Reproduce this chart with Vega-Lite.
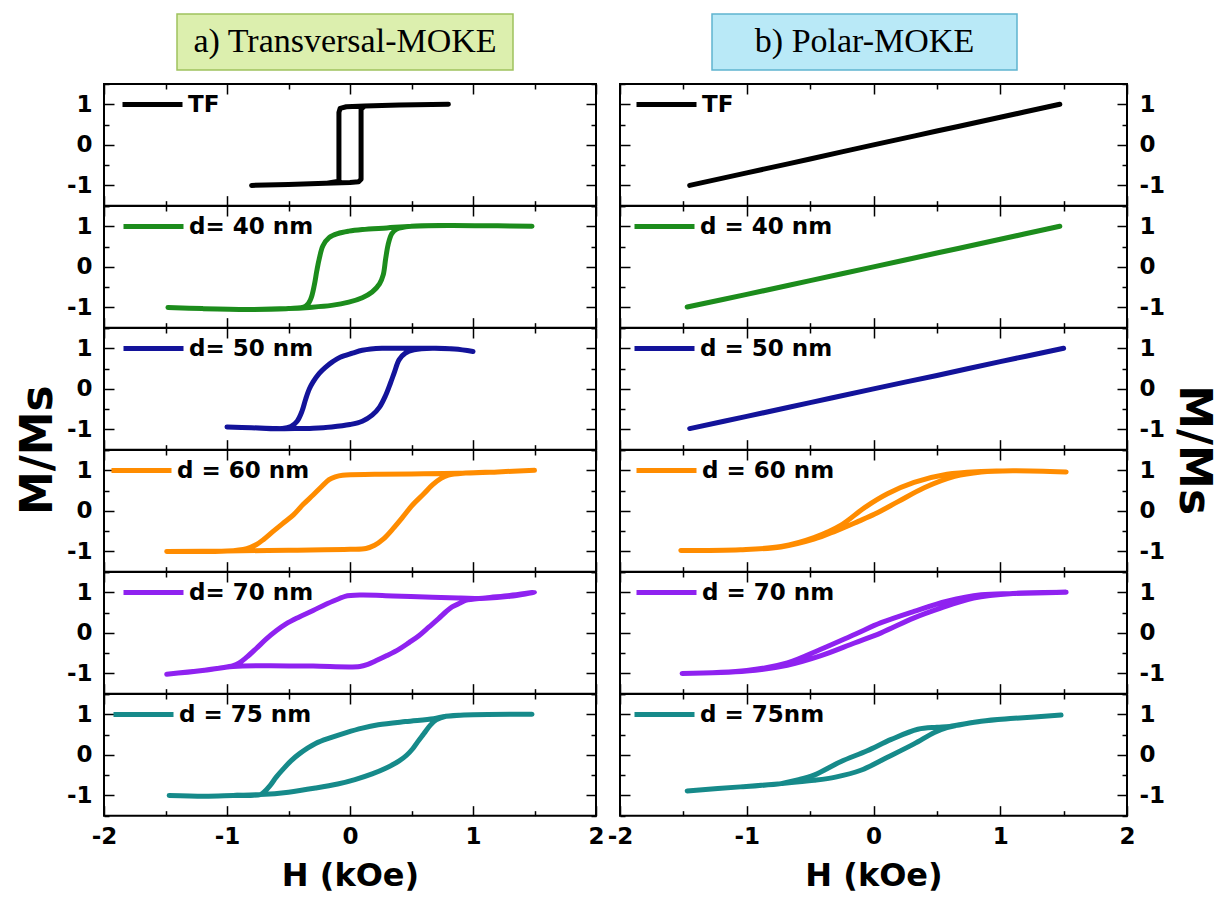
{
"$schema":"https://vega.github.io/schema/vega-lite/v6.json",
"background":"white",
"padding":{"left":15,"top":13,"right":5,"bottom":5},
"datasets":{"d":[
{"p":"T","s":"TF","i":0,"h":-0.8,"m":-1.0},{"p":"T","s":"TF","i":1,"h":-0.5,"m":-0.98},{"p":"T","s":"TF","i":2,"h":-0.2,"m":-0.95},{"p":"T","s":"TF","i":3,"h":0.0,"m":-0.93},{"p":"T","s":"TF","i":4,"h":0.07,"m":-0.91},{"p":"T","s":"TF","i":5,"h":0.09,"m":-0.85},{"p":"T","s":"TF","i":6,"h":0.09,"m":0.0},{"p":"T","s":"TF","i":7,"h":0.09,"m":0.88},{"p":"T","s":"TF","i":8,"h":0.12,"m":0.96},{"p":"T","s":"TF","i":9,"h":0.4,"m":0.98},{"p":"T","s":"TF","i":10,"h":0.8,"m":1.0},{"p":"T","s":"TF","i":11,"h":0.4,"m":0.98},{"p":"T","s":"TF","i":12,"h":0.12,"m":0.96},{"p":"T","s":"TF","i":13,"h":-0.03,"m":0.94},{"p":"T","s":"TF","i":14,"h":-0.08,"m":0.9},{"p":"T","s":"TF","i":15,"h":-0.09,"m":0.8},{"p":"T","s":"TF","i":16,"h":-0.09,"m":0.0},{"p":"T","s":"TF","i":17,"h":-0.09,"m":-0.9},{"p":"T","s":"TF","i":18,"h":-0.2,"m":-0.95},{"p":"T","s":"TF","i":19,"h":-0.5,"m":-0.98},{"p":"T","s":"TF","i":20,"h":-0.8,"m":-1.0},
{"p":"T","s":"40","i":0,"h":-1.48,"m":-1.0},{"p":"T","s":"40","i":1,"h":-1.2,"m":-1.03},{"p":"T","s":"40","i":2,"h":-0.83,"m":-1.05},{"p":"T","s":"40","i":3,"h":-0.5,"m":-1.03},{"p":"T","s":"40","i":4,"h":-0.33,"m":-1.0},{"p":"T","s":"40","i":5,"h":-0.15,"m":-0.95},{"p":"T","s":"40","i":6,"h":-0.01,"m":-0.87},{"p":"T","s":"40","i":7,"h":0.1,"m":-0.76},{"p":"T","s":"40","i":8,"h":0.18,"m":-0.62},{"p":"T","s":"40","i":9,"h":0.24,"m":-0.42},{"p":"T","s":"40","i":10,"h":0.27,"m":-0.2},{"p":"T","s":"40","i":11,"h":0.29,"m":0.2},{"p":"T","s":"40","i":12,"h":0.31,"m":0.55},{"p":"T","s":"40","i":13,"h":0.34,"m":0.82},{"p":"T","s":"40","i":14,"h":0.38,"m":0.93},{"p":"T","s":"40","i":15,"h":0.5,"m":1.0},{"p":"T","s":"40","i":16,"h":0.8,"m":1.02},{"p":"T","s":"40","i":17,"h":1.2,"m":1.01},{"p":"T","s":"40","i":18,"h":1.48,"m":1.0},{"p":"T","s":"40","i":19,"h":1.2,"m":1.01},{"p":"T","s":"40","i":20,"h":0.8,"m":1.02},{"p":"T","s":"40","i":21,"h":0.5,"m":1.0},{"p":"T","s":"40","i":22,"h":0.3,"m":0.96},{"p":"T","s":"40","i":23,"h":0.1,"m":0.92},{"p":"T","s":"40","i":24,"h":-0.01,"m":0.88},{"p":"T","s":"40","i":25,"h":-0.1,"m":0.82},{"p":"T","s":"40","i":26,"h":-0.17,"m":0.72},{"p":"T","s":"40","i":27,"h":-0.22,"m":0.52},{"p":"T","s":"40","i":28,"h":-0.25,"m":0.2},{"p":"T","s":"40","i":29,"h":-0.27,"m":-0.1},{"p":"T","s":"40","i":30,"h":-0.29,"m":-0.45},{"p":"T","s":"40","i":31,"h":-0.32,"m":-0.8},{"p":"T","s":"40","i":32,"h":-0.36,"m":-0.97},{"p":"T","s":"40","i":33,"h":-0.5,"m":-1.03},{"p":"T","s":"40","i":34,"h":-0.83,"m":-1.05},{"p":"T","s":"40","i":35,"h":-1.2,"m":-1.03},{"p":"T","s":"40","i":36,"h":-1.48,"m":-1.0},
{"p":"T","s":"50","i":0,"h":-1.0,"m":-0.94},{"p":"T","s":"50","i":1,"h":-0.8,"m":-0.96},{"p":"T","s":"50","i":2,"h":-0.6,"m":-0.98},{"p":"T","s":"50","i":3,"h":-0.45,"m":-0.98},{"p":"T","s":"50","i":4,"h":-0.3,"m":-0.97},{"p":"T","s":"50","i":5,"h":-0.15,"m":-0.94},{"p":"T","s":"50","i":6,"h":0.0,"m":-0.88},{"p":"T","s":"50","i":7,"h":0.1,"m":-0.8},{"p":"T","s":"50","i":8,"h":0.18,"m":-0.65},{"p":"T","s":"50","i":9,"h":0.24,"m":-0.45},{"p":"T","s":"50","i":10,"h":0.29,"m":-0.16},{"p":"T","s":"50","i":11,"h":0.33,"m":0.15},{"p":"T","s":"50","i":12,"h":0.36,"m":0.4},{"p":"T","s":"50","i":13,"h":0.4,"m":0.72},{"p":"T","s":"50","i":14,"h":0.45,"m":0.88},{"p":"T","s":"50","i":15,"h":0.52,"m":0.96},{"p":"T","s":"50","i":16,"h":0.67,"m":1.0},{"p":"T","s":"50","i":17,"h":0.85,"m":0.98},{"p":"T","s":"50","i":18,"h":1.0,"m":0.92},{"p":"T","s":"50","i":19,"h":0.85,"m":0.98},{"p":"T","s":"50","i":20,"h":0.67,"m":1.0},{"p":"T","s":"50","i":21,"h":0.45,"m":1.0},{"p":"T","s":"50","i":22,"h":0.26,"m":1.0},{"p":"T","s":"50","i":23,"h":0.1,"m":0.95},{"p":"T","s":"50","i":24,"h":0.02,"m":0.88},{"p":"T","s":"50","i":25,"h":-0.08,"m":0.78},{"p":"T","s":"50","i":26,"h":-0.14,"m":0.67},{"p":"T","s":"50","i":27,"h":-0.2,"m":0.53},{"p":"T","s":"50","i":28,"h":-0.25,"m":0.38},{"p":"T","s":"50","i":29,"h":-0.3,"m":0.17},{"p":"T","s":"50","i":30,"h":-0.33,"m":0.0},{"p":"T","s":"50","i":31,"h":-0.36,"m":-0.25},{"p":"T","s":"50","i":32,"h":-0.39,"m":-0.55},{"p":"T","s":"50","i":33,"h":-0.43,"m":-0.8},{"p":"T","s":"50","i":34,"h":-0.48,"m":-0.93},{"p":"T","s":"50","i":35,"h":-0.55,"m":-0.98},{"p":"T","s":"50","i":36,"h":-0.8,"m":-0.96},{"p":"T","s":"50","i":37,"h":-1.0,"m":-0.94},
{"p":"T","s":"60","i":0,"h":-1.49,"m":-1.0},{"p":"T","s":"60","i":1,"h":-1.0,"m":-0.99},{"p":"T","s":"60","i":2,"h":-0.5,"m":-0.97},{"p":"T","s":"60","i":3,"h":0.0,"m":-0.95},{"p":"T","s":"60","i":4,"h":0.13,"m":-0.93},{"p":"T","s":"60","i":5,"h":0.2,"m":-0.85},{"p":"T","s":"60","i":6,"h":0.27,"m":-0.7},{"p":"T","s":"60","i":7,"h":0.35,"m":-0.44},{"p":"T","s":"60","i":8,"h":0.43,"m":-0.15},{"p":"T","s":"60","i":9,"h":0.51,"m":0.15},{"p":"T","s":"60","i":10,"h":0.6,"m":0.42},{"p":"T","s":"60","i":11,"h":0.67,"m":0.64},{"p":"T","s":"60","i":12,"h":0.74,"m":0.8},{"p":"T","s":"60","i":13,"h":0.8,"m":0.88},{"p":"T","s":"60","i":14,"h":0.94,"m":0.93},{"p":"T","s":"60","i":15,"h":1.2,"m":0.96},{"p":"T","s":"60","i":16,"h":1.5,"m":1.0},{"p":"T","s":"60","i":17,"h":1.2,"m":0.96},{"p":"T","s":"60","i":18,"h":0.94,"m":0.93},{"p":"T","s":"60","i":19,"h":0.5,"m":0.91},{"p":"T","s":"60","i":20,"h":0.2,"m":0.9},{"p":"T","s":"60","i":21,"h":-0.06,"m":0.88},{"p":"T","s":"60","i":22,"h":-0.12,"m":0.84},{"p":"T","s":"60","i":23,"h":-0.17,"m":0.77},{"p":"T","s":"60","i":24,"h":-0.23,"m":0.6},{"p":"T","s":"60","i":25,"h":-0.3,"m":0.39},{"p":"T","s":"60","i":26,"h":-0.38,"m":0.16},{"p":"T","s":"60","i":27,"h":-0.46,"m":-0.1},{"p":"T","s":"60","i":28,"h":-0.55,"m":-0.32},{"p":"T","s":"60","i":29,"h":-0.63,"m":-0.52},{"p":"T","s":"60","i":30,"h":-0.7,"m":-0.7},{"p":"T","s":"60","i":31,"h":-0.76,"m":-0.83},{"p":"T","s":"60","i":32,"h":-0.84,"m":-0.93},{"p":"T","s":"60","i":33,"h":-1.0,"m":-0.99},{"p":"T","s":"60","i":34,"h":-1.49,"m":-1.0},
{"p":"T","s":"70","i":0,"h":-1.49,"m":-1.02},{"p":"T","s":"70","i":1,"h":-1.2,"m":-0.93},{"p":"T","s":"70","i":2,"h":-0.95,"m":-0.83},{"p":"T","s":"70","i":3,"h":-0.68,"m":-0.81},{"p":"T","s":"70","i":4,"h":-0.3,"m":-0.82},{"p":"T","s":"70","i":5,"h":0.08,"m":-0.83},{"p":"T","s":"70","i":6,"h":0.15,"m":-0.77},{"p":"T","s":"70","i":7,"h":0.21,"m":-0.69},{"p":"T","s":"70","i":8,"h":0.3,"m":-0.56},{"p":"T","s":"70","i":9,"h":0.4,"m":-0.4},{"p":"T","s":"70","i":10,"h":0.48,"m":-0.24},{"p":"T","s":"70","i":11,"h":0.56,"m":-0.07},{"p":"T","s":"70","i":12,"h":0.64,"m":0.14},{"p":"T","s":"70","i":13,"h":0.72,"m":0.35},{"p":"T","s":"70","i":14,"h":0.78,"m":0.52},{"p":"T","s":"70","i":15,"h":0.83,"m":0.64},{"p":"T","s":"70","i":16,"h":0.9,"m":0.74},{"p":"T","s":"70","i":17,"h":0.94,"m":0.8},{"p":"T","s":"70","i":18,"h":1.1,"m":0.86},{"p":"T","s":"70","i":19,"h":1.3,"m":0.92},{"p":"T","s":"70","i":20,"h":1.5,"m":1.0},{"p":"T","s":"70","i":21,"h":1.3,"m":0.9},{"p":"T","s":"70","i":22,"h":1.1,"m":0.85},{"p":"T","s":"70","i":23,"h":0.9,"m":0.86},{"p":"T","s":"70","i":24,"h":0.67,"m":0.88},{"p":"T","s":"70","i":25,"h":0.35,"m":0.91},{"p":"T","s":"70","i":26,"h":0.08,"m":0.93},{"p":"T","s":"70","i":27,"h":-0.04,"m":0.9},{"p":"T","s":"70","i":28,"h":-0.09,"m":0.84},{"p":"T","s":"70","i":29,"h":-0.2,"m":0.7},{"p":"T","s":"70","i":30,"h":-0.3,"m":0.55},{"p":"T","s":"70","i":31,"h":-0.42,"m":0.38},{"p":"T","s":"70","i":32,"h":-0.52,"m":0.22},{"p":"T","s":"70","i":33,"h":-0.6,"m":0.05},{"p":"T","s":"70","i":34,"h":-0.68,"m":-0.15},{"p":"T","s":"70","i":35,"h":-0.76,"m":-0.38},{"p":"T","s":"70","i":36,"h":-0.84,"m":-0.6},{"p":"T","s":"70","i":37,"h":-0.9,"m":-0.74},{"p":"T","s":"70","i":38,"h":-0.95,"m":-0.81},{"p":"T","s":"70","i":39,"h":-1.2,"m":-0.93},{"p":"T","s":"70","i":40,"h":-1.49,"m":-1.02},
{"p":"T","s":"75","i":0,"h":-1.47,"m":-1.0},{"p":"T","s":"75","i":1,"h":-1.18,"m":-1.02},{"p":"T","s":"75","i":2,"h":-0.95,"m":-1.0},{"p":"T","s":"75","i":3,"h":-0.73,"m":-0.98},{"p":"T","s":"75","i":4,"h":-0.5,"m":-0.92},{"p":"T","s":"75","i":5,"h":-0.28,"m":-0.82},{"p":"T","s":"75","i":6,"h":-0.1,"m":-0.72},{"p":"T","s":"75","i":7,"h":0.04,"m":-0.61},{"p":"T","s":"75","i":8,"h":0.18,"m":-0.47},{"p":"T","s":"75","i":9,"h":0.29,"m":-0.33},{"p":"T","s":"75","i":10,"h":0.4,"m":-0.15},{"p":"T","s":"75","i":11,"h":0.46,"m":-0.01},{"p":"T","s":"75","i":12,"h":0.51,"m":0.15},{"p":"T","s":"75","i":13,"h":0.55,"m":0.32},{"p":"T","s":"75","i":14,"h":0.6,"m":0.52},{"p":"T","s":"75","i":15,"h":0.65,"m":0.72},{"p":"T","s":"75","i":16,"h":0.7,"m":0.86},{"p":"T","s":"75","i":17,"h":0.78,"m":0.95},{"p":"T","s":"75","i":18,"h":1.0,"m":0.99},{"p":"T","s":"75","i":19,"h":1.48,"m":1.0},{"p":"T","s":"75","i":20,"h":1.0,"m":0.99},{"p":"T","s":"75","i":21,"h":0.78,"m":0.95},{"p":"T","s":"75","i":22,"h":0.68,"m":0.89},{"p":"T","s":"75","i":23,"h":0.45,"m":0.82},{"p":"T","s":"75","i":24,"h":0.23,"m":0.74},{"p":"T","s":"75","i":25,"h":0.1,"m":0.66},{"p":"T","s":"75","i":26,"h":-0.03,"m":0.55},{"p":"T","s":"75","i":27,"h":-0.15,"m":0.43},{"p":"T","s":"75","i":28,"h":-0.28,"m":0.28},{"p":"T","s":"75","i":29,"h":-0.41,"m":0.03},{"p":"T","s":"75","i":30,"h":-0.48,"m":-0.15},{"p":"T","s":"75","i":31,"h":-0.54,"m":-0.34},{"p":"T","s":"75","i":32,"h":-0.6,"m":-0.55},{"p":"T","s":"75","i":33,"h":-0.65,"m":-0.76},{"p":"T","s":"75","i":34,"h":-0.7,"m":-0.92},{"p":"T","s":"75","i":35,"h":-0.73,"m":-0.98},{"p":"T","s":"75","i":36,"h":-0.95,"m":-1.0},{"p":"T","s":"75","i":37,"h":-1.18,"m":-1.02},{"p":"T","s":"75","i":38,"h":-1.47,"m":-1.0},
{"p":"P","s":"TF","i":0,"h":-1.45,"m":-1.0},{"p":"P","s":"TF","i":1,"h":-1.0,"m":-0.69},{"p":"P","s":"TF","i":2,"h":-0.5,"m":-0.35},{"p":"P","s":"TF","i":3,"h":0.0,"m":0.0},{"p":"P","s":"TF","i":4,"h":0.5,"m":0.34},{"p":"P","s":"TF","i":5,"h":1.0,"m":0.68},{"p":"P","s":"TF","i":6,"h":1.47,"m":1.0},
{"p":"P","s":"40","i":0,"h":-1.47,"m":-0.99},{"p":"P","s":"40","i":1,"h":-1.0,"m":-0.68},{"p":"P","s":"40","i":2,"h":-0.5,"m":-0.34},{"p":"P","s":"40","i":3,"h":0.0,"m":0.0},{"p":"P","s":"40","i":4,"h":0.5,"m":0.34},{"p":"P","s":"40","i":5,"h":1.0,"m":0.68},{"p":"P","s":"40","i":6,"h":1.47,"m":1.0},
{"p":"P","s":"50","i":0,"h":-1.45,"m":-0.98},{"p":"P","s":"50","i":1,"h":-1.0,"m":-0.68},{"p":"P","s":"50","i":2,"h":-0.5,"m":-0.34},{"p":"P","s":"50","i":3,"h":0.0,"m":0.0},{"p":"P","s":"50","i":4,"h":0.5,"m":0.33},{"p":"P","s":"50","i":5,"h":1.0,"m":0.67},{"p":"P","s":"50","i":6,"h":1.5,"m":1.0},
{"p":"P","s":"60","i":0,"h":-1.52,"m":-0.98},{"p":"P","s":"60","i":1,"h":-1.05,"m":-0.96},{"p":"P","s":"60","i":2,"h":-0.73,"m":-0.89},{"p":"P","s":"60","i":3,"h":-0.47,"m":-0.7},{"p":"P","s":"60","i":4,"h":-0.3,"m":-0.5},{"p":"P","s":"60","i":5,"h":-0.12,"m":-0.26},{"p":"P","s":"60","i":6,"h":0.01,"m":-0.08},{"p":"P","s":"60","i":7,"h":0.19,"m":0.22},{"p":"P","s":"60","i":8,"h":0.4,"m":0.57},{"p":"P","s":"60","i":9,"h":0.64,"m":0.85},{"p":"P","s":"60","i":10,"h":0.85,"m":0.96},{"p":"P","s":"60","i":11,"h":1.1,"m":0.99},{"p":"P","s":"60","i":12,"h":1.52,"m":0.96},{"p":"P","s":"60","i":13,"h":1.1,"m":0.99},{"p":"P","s":"60","i":14,"h":0.85,"m":0.97},{"p":"P","s":"60","i":15,"h":0.58,"m":0.9},{"p":"P","s":"60","i":16,"h":0.32,"m":0.7},{"p":"P","s":"60","i":17,"h":0.11,"m":0.42},{"p":"P","s":"60","i":18,"h":-0.07,"m":0.08},{"p":"P","s":"60","i":19,"h":-0.26,"m":-0.36},{"p":"P","s":"60","i":20,"h":-0.47,"m":-0.66},{"p":"P","s":"60","i":21,"h":-0.73,"m":-0.88},{"p":"P","s":"60","i":22,"h":-1.05,"m":-0.96},{"p":"P","s":"60","i":23,"h":-1.52,"m":-0.98},
{"p":"P","s":"70","i":0,"h":-1.51,"m":-1.0},{"p":"P","s":"70","i":1,"h":-1.0,"m":-0.94},{"p":"P","s":"70","i":2,"h":-0.68,"m":-0.8},{"p":"P","s":"70","i":3,"h":-0.42,"m":-0.57},{"p":"P","s":"70","i":4,"h":-0.15,"m":-0.25},{"p":"P","s":"70","i":5,"h":0.06,"m":0.0},{"p":"P","s":"70","i":6,"h":0.32,"m":0.37},{"p":"P","s":"70","i":7,"h":0.53,"m":0.61},{"p":"P","s":"70","i":8,"h":0.79,"m":0.86},{"p":"P","s":"70","i":9,"h":1.1,"m":0.97},{"p":"P","s":"70","i":10,"h":1.52,"m":1.0},{"p":"P","s":"70","i":11,"h":1.1,"m":0.97},{"p":"P","s":"70","i":12,"h":0.85,"m":0.94},{"p":"P","s":"70","i":13,"h":0.58,"m":0.78},{"p":"P","s":"70","i":14,"h":0.32,"m":0.53},{"p":"P","s":"70","i":15,"h":0.06,"m":0.25},{"p":"P","s":"70","i":16,"h":-0.15,"m":-0.04},{"p":"P","s":"70","i":17,"h":-0.42,"m":-0.41},{"p":"P","s":"70","i":18,"h":-0.68,"m":-0.74},{"p":"P","s":"70","i":19,"h":-1.0,"m":-0.93},{"p":"P","s":"70","i":20,"h":-1.51,"m":-1.0},
{"p":"P","s":"75","i":0,"h":-1.47,"m":-0.89},{"p":"P","s":"75","i":1,"h":-1.05,"m":-0.79},{"p":"P","s":"75","i":2,"h":-0.73,"m":-0.71},{"p":"P","s":"75","i":3,"h":-0.47,"m":-0.63},{"p":"P","s":"75","i":4,"h":-0.3,"m":-0.55},{"p":"P","s":"75","i":5,"h":-0.1,"m":-0.38},{"p":"P","s":"75","i":6,"h":0.11,"m":-0.06},{"p":"P","s":"75","i":7,"h":0.32,"m":0.27},{"p":"P","s":"75","i":8,"h":0.48,"m":0.55},{"p":"P","s":"75","i":9,"h":0.58,"m":0.67},{"p":"P","s":"75","i":10,"h":0.85,"m":0.83},{"p":"P","s":"75","i":11,"h":1.11,"m":0.9},{"p":"P","s":"75","i":12,"h":1.48,"m":0.98},{"p":"P","s":"75","i":13,"h":1.11,"m":0.9},{"p":"P","s":"75","i":14,"h":0.85,"m":0.83},{"p":"P","s":"75","i":15,"h":0.6,"m":0.7},{"p":"P","s":"75","i":16,"h":0.5,"m":0.68},{"p":"P","s":"75","i":17,"h":0.35,"m":0.63},{"p":"P","s":"75","i":18,"h":0.14,"m":0.38},{"p":"P","s":"75","i":19,"h":-0.05,"m":0.1},{"p":"P","s":"75","i":20,"h":-0.26,"m":-0.17},{"p":"P","s":"75","i":21,"h":-0.47,"m":-0.5},{"p":"P","s":"75","i":22,"h":-0.6,"m":-0.62},{"p":"P","s":"75","i":23,"h":-0.73,"m":-0.71},{"p":"P","s":"75","i":24,"h":-1.05,"m":-0.79},{"p":"P","s":"75","i":25,"h":-1.47,"m":-0.89}
]},
"data":{"name":"d"},
"spacing":0,
"resolve":{"scale":{"x":"independent","y":"independent","color":"independent"},"legend":{"color":"independent"}},
"hconcat":[
{"spacing":0,
 "resolve":{"scale":{"x":"independent","y":"independent","color":"independent"},"legend":{"color":"independent"}},
 "vconcat":[
 {"spacing":0,"hconcat":[
  {"width":72,"height":56,"data":{"values":[{"t":""}]},"view":{"stroke":null},"mark":{"type":"text"},"encoding":{"text":{"field":"t"}}},
  {"width":336,"height":56,"data":{"values":[{"t":"a) Transversal-MOKE"}]},"view":{"fill":"#dcefae","stroke":"#9fc25e","strokeWidth":1.5},"mark":{"type":"text","font":"Liberation Serif","fontSize":34,"color":"#000"},"encoding":{"text":{"field":"t"}}}
 ]},
 {"spacing":0,"bounds":"flush",
  "resolve":{"scale":{"x":"independent","y":"independent","color":"independent"},"legend":{"color":"independent"}},
  "vconcat":[
  {"width":492,"height":121.67,"transform":[{"filter":"datum.p=='T'&&datum.s=='TF'"}],"layer":[
   {"mark":"line","encoding":{"x":{"field":"h","type":"quantitative","scale":{"domain":[-2,2],"nice":false},"axis":{"orient":"bottom","values":[-2,-1.5,-1,-0.5,0,0.5,1,1.5,2],"labels":false,"title":null}},"y":{"field":"m","type":"quantitative","scale":{"domain":[-1.5,1.5],"nice":false},"axis":{"orient":"left","values":[-1.5,-1,-0.5,0,0.5,1,1.5],"labelExpr":"datum.value % 1 ? '' : (datum.value < 0 ? '-' + abs(datum.value) : '' + datum.value)","title":null}},"order":{"field":"i"},"color":{"datum":"TF","scale":{"domain":["TF"],"range":["#000000"]},"legend":{"title":null,"legendX":16,"legendY":-12}}}},
   {"mark":{"type":"line","opacity":0},"encoding":{"x":{"field":"h","type":"quantitative","axis":{"orient":"top","values":[-2,-1.5,-1,-0.5,0,0.5,1,1.5,2],"labels":false,"title":null}},"y":{"field":"m","type":"quantitative","axis":{"orient":"right","values":[-1.5,-1,-0.5,0,0.5,1,1.5],"labels":false,"title":null}}}}]},
  {"width":492,"height":121.67,"transform":[{"filter":"datum.p=='T'&&datum.s=='40'"}],"layer":[
   {"mark":{"type":"line","interpolate":"catmull-rom"},"encoding":{"x":{"field":"h","type":"quantitative","scale":{"domain":[-2,2],"nice":false},"axis":{"orient":"bottom","values":[-2,-1.5,-1,-0.5,0,0.5,1,1.5,2],"labels":false,"title":null}},"y":{"field":"m","type":"quantitative","scale":{"domain":[-1.5,1.5],"nice":false},"axis":{"orient":"left","values":[-1.5,-1,-0.5,0,0.5,1,1.5],"labelExpr":"datum.value % 1 ? '' : (datum.value < 0 ? '-' + abs(datum.value) : '' + datum.value)","title":null}},"order":{"field":"i"},"color":{"datum":"d= 40 nm","scale":{"domain":["d= 40 nm"],"range":["#1c8c1c"]},"legend":{"title":null,"legendX":17,"legendY":-12}}}},
   {"mark":{"type":"line","opacity":0},"encoding":{"x":{"field":"h","type":"quantitative","axis":{"orient":"top","values":[-2,-1.5,-1,-0.5,0,0.5,1,1.5,2],"labels":false,"title":null}},"y":{"field":"m","type":"quantitative","axis":{"orient":"right","values":[-1.5,-1,-0.5,0,0.5,1,1.5],"labels":false,"title":null}}}}]},
  {"width":492,"height":121.67,"transform":[{"filter":"datum.p=='T'&&datum.s=='50'"}],"layer":[
   {"mark":{"type":"line","interpolate":"catmull-rom"},"encoding":{"x":{"field":"h","type":"quantitative","scale":{"domain":[-2,2],"nice":false},"axis":{"orient":"bottom","values":[-2,-1.5,-1,-0.5,0,0.5,1,1.5,2],"labels":false,"title":null}},"y":{"field":"m","type":"quantitative","scale":{"domain":[-1.5,1.5],"nice":false},"axis":{"orient":"left","values":[-1.5,-1,-0.5,0,0.5,1,1.5],"labelExpr":"datum.value % 1 ? '' : (datum.value < 0 ? '-' + abs(datum.value) : '' + datum.value)","title":"M/Ms","titleAnchor":"start","titleAlign":"center","titleFontSize":44,"titlePadding":6}},"order":{"field":"i"},"color":{"datum":"d= 50 nm","scale":{"domain":["d= 50 nm"],"range":["#13139a"]},"legend":{"title":null,"legendX":17,"legendY":-12}}}},
   {"mark":{"type":"line","opacity":0},"encoding":{"x":{"field":"h","type":"quantitative","axis":{"orient":"top","values":[-2,-1.5,-1,-0.5,0,0.5,1,1.5,2],"labels":false,"title":null}},"y":{"field":"m","type":"quantitative","axis":{"orient":"right","values":[-1.5,-1,-0.5,0,0.5,1,1.5],"labels":false,"title":null}}}}]},
  {"width":492,"height":121.67,"transform":[{"filter":"datum.p=='T'&&datum.s=='60'"}],"layer":[
   {"mark":{"type":"line","interpolate":"catmull-rom"},"encoding":{"x":{"field":"h","type":"quantitative","scale":{"domain":[-2,2],"nice":false},"axis":{"orient":"bottom","values":[-2,-1.5,-1,-0.5,0,0.5,1,1.5,2],"labels":false,"title":null}},"y":{"field":"m","type":"quantitative","scale":{"domain":[-1.5,1.5],"nice":false},"axis":{"orient":"left","values":[-1.5,-1,-0.5,0,0.5,1,1.5],"labelExpr":"datum.value % 1 ? '' : (datum.value < 0 ? '-' + abs(datum.value) : '' + datum.value)","title":null}},"order":{"field":"i"},"color":{"datum":"d = 60 nm","scale":{"domain":["d = 60 nm"],"range":["#ff8c00"]},"legend":{"title":null,"legendX":5,"legendY":-12}}}},
   {"mark":{"type":"line","opacity":0},"encoding":{"x":{"field":"h","type":"quantitative","axis":{"orient":"top","values":[-2,-1.5,-1,-0.5,0,0.5,1,1.5,2],"labels":false,"title":null}},"y":{"field":"m","type":"quantitative","axis":{"orient":"right","values":[-1.5,-1,-0.5,0,0.5,1,1.5],"labels":false,"title":null}}}}]},
  {"width":492,"height":121.67,"transform":[{"filter":"datum.p=='T'&&datum.s=='70'"}],"layer":[
   {"mark":{"type":"line","interpolate":"catmull-rom"},"encoding":{"x":{"field":"h","type":"quantitative","scale":{"domain":[-2,2],"nice":false},"axis":{"orient":"bottom","values":[-2,-1.5,-1,-0.5,0,0.5,1,1.5,2],"labels":false,"title":null}},"y":{"field":"m","type":"quantitative","scale":{"domain":[-1.5,1.5],"nice":false},"axis":{"orient":"left","values":[-1.5,-1,-0.5,0,0.5,1,1.5],"labelExpr":"datum.value % 1 ? '' : (datum.value < 0 ? '-' + abs(datum.value) : '' + datum.value)","title":null}},"order":{"field":"i"},"color":{"datum":"d= 70 nm","scale":{"domain":["d= 70 nm"],"range":["#8f22f0"]},"legend":{"title":null,"legendX":17,"legendY":-12}}}},
   {"mark":{"type":"line","opacity":0},"encoding":{"x":{"field":"h","type":"quantitative","axis":{"orient":"top","values":[-2,-1.5,-1,-0.5,0,0.5,1,1.5,2],"labels":false,"title":null}},"y":{"field":"m","type":"quantitative","axis":{"orient":"right","values":[-1.5,-1,-0.5,0,0.5,1,1.5],"labels":false,"title":null}}}}]},
  {"width":492,"height":121.67,"transform":[{"filter":"datum.p=='T'&&datum.s=='75'"}],"layer":[
   {"mark":{"type":"line","interpolate":"catmull-rom"},"encoding":{"x":{"field":"h","type":"quantitative","scale":{"domain":[-2,2],"nice":false},"axis":{"orient":"bottom","values":[-2,-1.5,-1,-0.5,0,0.5,1,1.5,2],"labelExpr":"datum.value % 1 ? '' : (datum.value < 0 ? '-' + abs(datum.value) : '' + datum.value)","title":"H (kOe)","titlePadding":7}},"y":{"field":"m","type":"quantitative","scale":{"domain":[-1.5,1.5],"nice":false},"axis":{"orient":"left","values":[-1.5,-1,-0.5,0,0.5,1,1.5],"labelExpr":"datum.value % 1 ? '' : (datum.value < 0 ? '-' + abs(datum.value) : '' + datum.value)","title":null}},"order":{"field":"i"},"color":{"datum":"d = 75 nm","scale":{"domain":["d = 75 nm"],"range":["#168a8a"]},"legend":{"title":null,"legendX":7,"legendY":-12}}}},
   {"mark":{"type":"line","opacity":0},"encoding":{"x":{"field":"h","type":"quantitative","axis":{"orient":"top","values":[-2,-1.5,-1,-0.5,0,0.5,1,1.5,2],"labels":false,"title":null}},"y":{"field":"m","type":"quantitative","axis":{"orient":"right","values":[-1.5,-1,-0.5,0,0.5,1,1.5],"labels":false,"title":null}}}}]}
  ]}
 ]},
{"spacing":0,
 "resolve":{"scale":{"x":"independent","y":"independent","color":"independent"},"legend":{"color":"independent"}},
 "vconcat":[
 {"spacing":0,"hconcat":[
  {"width":91,"height":56,"data":{"values":[{"t":""}]},"view":{"stroke":null},"mark":{"type":"text"},"encoding":{"text":{"field":"t"}}},
  {"width":305,"height":56,"data":{"values":[{"t":"b) Polar-MOKE"}]},"view":{"fill":"#b9e9f7","stroke":"#5fb4d0","strokeWidth":1.5},"mark":{"type":"text","font":"Liberation Serif","fontSize":34,"color":"#000"},"encoding":{"text":{"field":"t"}}}
 ]},
 {"spacing":0,"bounds":"flush",
  "resolve":{"scale":{"x":"independent","y":"independent","color":"independent"},"legend":{"color":"independent"}},
  "vconcat":[
  {"width":507,"height":121.67,"transform":[{"filter":"datum.p=='P'&&datum.s=='TF'"}],"layer":[
   {"mark":{"type":"line","interpolate":"catmull-rom"},"encoding":{"x":{"field":"h","type":"quantitative","scale":{"domain":[-2,2],"nice":false},"axis":{"orient":"bottom","values":[-2,-1.5,-1,-0.5,0,0.5,1,1.5,2],"labels":false,"title":null}},"y":{"field":"m","type":"quantitative","scale":{"domain":[-1.5,1.5],"nice":false},"axis":{"orient":"left","values":[-1.5,-1,-0.5,0,0.5,1,1.5],"labels":false,"title":null}},"order":{"field":"i"},"color":{"datum":"TF","scale":{"domain":["TF"],"range":["#000000"]},"legend":{"title":null,"legendX":14,"legendY":-12}}}},
   {"mark":{"type":"line","opacity":0},"encoding":{"x":{"field":"h","type":"quantitative","axis":{"orient":"top","values":[-2,-1.5,-1,-0.5,0,0.5,1,1.5,2],"labels":false,"title":null}},"y":{"field":"m","type":"quantitative","axis":{"orient":"right","values":[-1.5,-1,-0.5,0,0.5,1,1.5],"labelExpr":"datum.value % 1 ? '' : (datum.value < 0 ? '-' + abs(datum.value) : '' + datum.value)","title":null}}}}]},
  {"width":507,"height":121.67,"transform":[{"filter":"datum.p=='P'&&datum.s=='40'"}],"layer":[
   {"mark":{"type":"line","interpolate":"catmull-rom"},"encoding":{"x":{"field":"h","type":"quantitative","scale":{"domain":[-2,2],"nice":false},"axis":{"orient":"bottom","values":[-2,-1.5,-1,-0.5,0,0.5,1,1.5,2],"labels":false,"title":null}},"y":{"field":"m","type":"quantitative","scale":{"domain":[-1.5,1.5],"nice":false},"axis":{"orient":"left","values":[-1.5,-1,-0.5,0,0.5,1,1.5],"labels":false,"title":null}},"order":{"field":"i"},"color":{"datum":"d = 40 nm","scale":{"domain":["d = 40 nm"],"range":["#1c8c1c"]},"legend":{"title":null,"legendX":12,"legendY":-12}}}},
   {"mark":{"type":"line","opacity":0},"encoding":{"x":{"field":"h","type":"quantitative","axis":{"orient":"top","values":[-2,-1.5,-1,-0.5,0,0.5,1,1.5,2],"labels":false,"title":null}},"y":{"field":"m","type":"quantitative","axis":{"orient":"right","values":[-1.5,-1,-0.5,0,0.5,1,1.5],"labelExpr":"datum.value % 1 ? '' : (datum.value < 0 ? '-' + abs(datum.value) : '' + datum.value)","title":null}}}}]},
  {"width":507,"height":121.67,"transform":[{"filter":"datum.p=='P'&&datum.s=='50'"}],"layer":[
   {"mark":{"type":"line","interpolate":"catmull-rom"},"encoding":{"x":{"field":"h","type":"quantitative","scale":{"domain":[-2,2],"nice":false},"axis":{"orient":"bottom","values":[-2,-1.5,-1,-0.5,0,0.5,1,1.5,2],"labels":false,"title":null}},"y":{"field":"m","type":"quantitative","scale":{"domain":[-1.5,1.5],"nice":false},"axis":{"orient":"left","values":[-1.5,-1,-0.5,0,0.5,1,1.5],"labels":false,"title":null}},"order":{"field":"i"},"color":{"datum":"d = 50 nm","scale":{"domain":["d = 50 nm"],"range":["#13139a"]},"legend":{"title":null,"legendX":12,"legendY":-12}}}},
   {"mark":{"type":"line","opacity":0},"encoding":{"x":{"field":"h","type":"quantitative","axis":{"orient":"top","values":[-2,-1.5,-1,-0.5,0,0.5,1,1.5,2],"labels":false,"title":null}},"y":{"field":"m","type":"quantitative","axis":{"orient":"right","values":[-1.5,-1,-0.5,0,0.5,1,1.5],"labelExpr":"datum.value % 1 ? '' : (datum.value < 0 ? '-' + abs(datum.value) : '' + datum.value)","title":"M/Ms","titleAnchor":"start","titleAlign":"center","titleFontSize":44,"titlePadding":6}}}}]},
  {"width":507,"height":121.67,"transform":[{"filter":"datum.p=='P'&&datum.s=='60'"}],"layer":[
   {"mark":{"type":"line","interpolate":"catmull-rom"},"encoding":{"x":{"field":"h","type":"quantitative","scale":{"domain":[-2,2],"nice":false},"axis":{"orient":"bottom","values":[-2,-1.5,-1,-0.5,0,0.5,1,1.5,2],"labels":false,"title":null}},"y":{"field":"m","type":"quantitative","scale":{"domain":[-1.5,1.5],"nice":false},"axis":{"orient":"left","values":[-1.5,-1,-0.5,0,0.5,1,1.5],"labels":false,"title":null}},"order":{"field":"i"},"color":{"datum":"d = 60 nm","scale":{"domain":["d = 60 nm"],"range":["#ff8c00"]},"legend":{"title":null,"legendX":14,"legendY":-12}}}},
   {"mark":{"type":"line","opacity":0},"encoding":{"x":{"field":"h","type":"quantitative","axis":{"orient":"top","values":[-2,-1.5,-1,-0.5,0,0.5,1,1.5,2],"labels":false,"title":null}},"y":{"field":"m","type":"quantitative","axis":{"orient":"right","values":[-1.5,-1,-0.5,0,0.5,1,1.5],"labelExpr":"datum.value % 1 ? '' : (datum.value < 0 ? '-' + abs(datum.value) : '' + datum.value)","title":null}}}}]},
  {"width":507,"height":121.67,"transform":[{"filter":"datum.p=='P'&&datum.s=='70'"}],"layer":[
   {"mark":{"type":"line","interpolate":"catmull-rom"},"encoding":{"x":{"field":"h","type":"quantitative","scale":{"domain":[-2,2],"nice":false},"axis":{"orient":"bottom","values":[-2,-1.5,-1,-0.5,0,0.5,1,1.5,2],"labels":false,"title":null}},"y":{"field":"m","type":"quantitative","scale":{"domain":[-1.5,1.5],"nice":false},"axis":{"orient":"left","values":[-1.5,-1,-0.5,0,0.5,1,1.5],"labels":false,"title":null}},"order":{"field":"i"},"color":{"datum":"d = 70 nm","scale":{"domain":["d = 70 nm"],"range":["#8f22f0"]},"legend":{"title":null,"legendX":14,"legendY":-12}}}},
   {"mark":{"type":"line","opacity":0},"encoding":{"x":{"field":"h","type":"quantitative","axis":{"orient":"top","values":[-2,-1.5,-1,-0.5,0,0.5,1,1.5,2],"labels":false,"title":null}},"y":{"field":"m","type":"quantitative","axis":{"orient":"right","values":[-1.5,-1,-0.5,0,0.5,1,1.5],"labelExpr":"datum.value % 1 ? '' : (datum.value < 0 ? '-' + abs(datum.value) : '' + datum.value)","title":null}}}}]},
  {"width":507,"height":121.67,"transform":[{"filter":"datum.p=='P'&&datum.s=='75'"}],"layer":[
   {"mark":{"type":"line","interpolate":"catmull-rom"},"encoding":{"x":{"field":"h","type":"quantitative","scale":{"domain":[-2,2],"nice":false},"axis":{"orient":"bottom","values":[-2,-1.5,-1,-0.5,0,0.5,1,1.5,2],"labelExpr":"datum.value % 1 ? '' : (datum.value < 0 ? '-' + abs(datum.value) : '' + datum.value)","title":"H (kOe)","titlePadding":7}},"y":{"field":"m","type":"quantitative","scale":{"domain":[-1.5,1.5],"nice":false},"axis":{"orient":"left","values":[-1.5,-1,-0.5,0,0.5,1,1.5],"labels":false,"title":null}},"order":{"field":"i"},"color":{"datum":"d = 75nm","scale":{"domain":["d = 75nm"],"range":["#168a8a"]},"legend":{"title":null,"legendX":12,"legendY":-12}}}},
   {"mark":{"type":"line","opacity":0},"encoding":{"x":{"field":"h","type":"quantitative","axis":{"orient":"top","values":[-2,-1.5,-1,-0.5,0,0.5,1,1.5,2],"labels":false,"title":null}},"y":{"field":"m","type":"quantitative","axis":{"orient":"right","values":[-1.5,-1,-0.5,0,0.5,1,1.5],"labelExpr":"datum.value % 1 ? '' : (datum.value < 0 ? '-' + abs(datum.value) : '' + datum.value)","title":null}}}}]}
  ]}
 ]}
],
"config":{
 "view":{"stroke":"#000000","strokeWidth":2},
 "axis":{"domain":false,"grid":false,"tickColor":"#000000","tickWidth":1.5,
  "tickSize":{"condition":{"test":"datum.value % 1 !== 0","value":-5},"value":-10},
  "labelFont":"DejaVu Sans","labelFontWeight":"bold","labelFontSize":23,"labelColor":"#000000","labelFlush":false,"labelOverlap":false,
  "titleFont":"DejaVu Sans","titleFontWeight":"bold","titleFontSize":32,"titleColor":"#000000"},
 "axisX":{"labelPadding":20},
 "axisY":{"labelPadding":22},
 "legend":{"orient":"none","padding":0,"labelFont":"DejaVu Sans","labelFontWeight":"bold","labelFontSize":23,"labelColor":"#000000","symbolType":"stroke","symbolSize":3600,"symbolStrokeWidth":5,"labelOffset":3},
 "line":{"strokeWidth":5,"strokeCap":"round","strokeJoin":"round"}
}
}
